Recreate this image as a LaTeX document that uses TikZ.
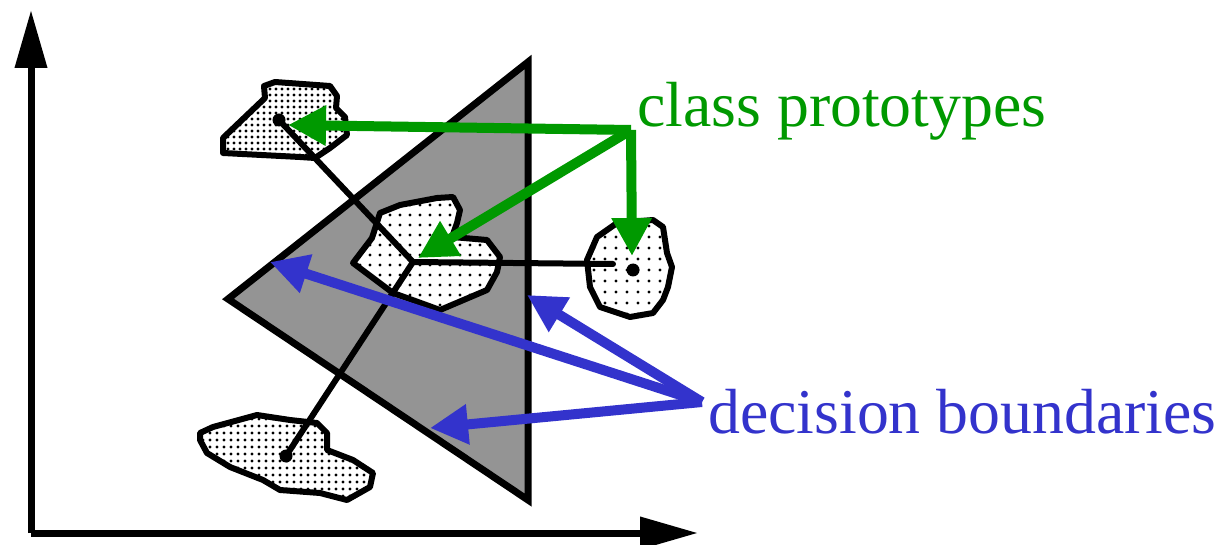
\documentclass[tikz,border=0pt]{standalone}
\usepackage{fontspec}
\setmainfont{Liberation Serif}
\usetikzlibrary{arrows.meta,patterns.meta}
\definecolor{protogreen}{RGB}{0,153,0}
\definecolor{boundblue}{RGB}{51,51,204}
\tikzset{
  axisline/.style={line width=7pt,-{Triangle[length=58pt,width=31pt]}},
  blob/.style={draw=black,line width=6pt,line join=round,fill=white,
    postaction={pattern={Dots[distance=#1,radius=1.6pt]}}},
  blob/.default=8pt,
  regionline/.style={line width=6pt,line cap=round},
  protodot/.style={circle,fill=black,inner sep=0pt,minimum size=13pt},
  greenarrow/.style={protogreen,line width=10pt,-{Triangle[length=38pt,width=38pt]}},
  bluearrow/.style={boundblue,line width=10pt,-{Triangle[length=38pt,width=38pt]}},
  labeltext/.style={inner sep=0pt,anchor=base west,font=\fontsize{63.8}{70}\selectfont}
}
\begin{document}
\begin{tikzpicture}[x=1pt,y=-1pt]
\useasboundingbox (0,0) rectangle (1223,545);
% axes
\coordinate (origin) at (31,533);
\coordinate (ytip) at (31,10);
\coordinate (xtip) at (698,533);
\draw[axisline] (origin) -- (ytip);
\draw[axisline] (origin) -- (xtip);
% triangle region
\draw[line width=7pt,line join=miter,fill=black!42] (528,62) -- (228,299) -- (528,500) -- cycle;
% class blobs
\draw[blob=6pt] (264,86) -- (275,82) -- (330,86) -- (337,96) -- (336,108) -- (345,117) -- (347,135) -- (330,148) -- (315,158) -- (300,157) -- (223,153) -- (223,138) -- (265,98) -- cycle;
\draw[blob=7pt] (200,433) -- (213,427) -- (257,415) -- (290,420) -- (317,423) -- (327,433) -- (327,450) -- (353,460) -- (373,473) -- (370,487) -- (347,500) -- (320,493) -- (280,490) -- (263,480) -- (230,467) -- (207,453) -- (200,440) -- cycle;
\draw[blob=11pt] (617,223) -- (653,220) -- (663,227) -- (667,253) -- (672,267) -- (668,287) -- (663,300) -- (653,313) -- (630,317) -- (600,307) -- (590,287) -- (587,260) -- (597,237) -- cycle;
\draw[blob=10pt] (353,263) -- (372,238) -- (380,213) -- (400,205) -- (437,198) -- (453,197) -- (460,210) -- (457,223) -- (452,237) -- (487,240) -- (500,257) -- (497,272) -- (487,290) -- (440,310) -- (407,298) -- (393,293) -- cycle;
% prototypes and separating lines
\node[protodot] (ptl) at (279,120) {};
\node[protodot] (pbot) at (286,456) {};
\node[protodot] (pright) at (633,270) {};
\coordinate (junction) at (413,262);
\coordinate (rightend) at (613,264);
\draw[regionline] (ptl.center) -- (junction) -- (pbot.center);
\draw[regionline] (junction) -- (rightend);
% label anchors
\coordinate (gsrc) at (631,130);
\coordinate (bsrc) at (702,402);
\coordinate (gt1) at (288,125);
\coordinate (gt2) at (418,258);
\coordinate (gt3) at (632,256);
\coordinate (bt1) at (270,262);
\coordinate (bt2) at (527,295);
\coordinate (bt3) at (430,428);
\draw[greenarrow] (gsrc) -- (gt1);
\draw[greenarrow] (gsrc) -- (gt2);
\draw[greenarrow] (gsrc) -- (gt3);
\draw[bluearrow] (bsrc) -- (bt1);
\draw[bluearrow] (bsrc) -- (bt2);
\draw[bluearrow] (bsrc) -- (bt3);
% labels
\node[labeltext,text=protogreen] (cp) at (637,127) {class prototypes};
\node[labeltext,text=boundblue] (db) at (708,433) {decision boundaries};
\end{tikzpicture}
\end{document}
